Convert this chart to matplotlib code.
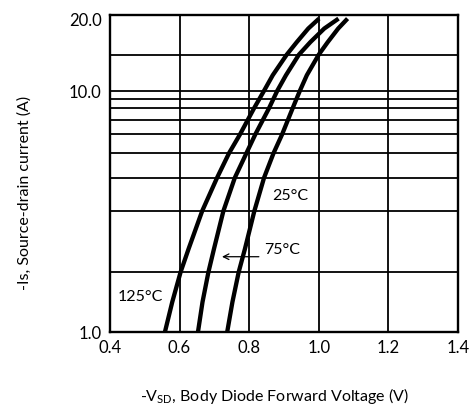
import matplotlib
matplotlib.use("Agg")
import matplotlib.pyplot as plt

# Body diode forward characteristics
current = [1.0, 1.33, 1.77, 2.21, 3.17, 4.36, 5.5, 6.6, 8.45,
           10.0, 11.6, 14.1, 15.9, 18.1, 19.9]
vsd_125 = [0.558, 0.579, 0.603, 0.626, 0.665, 0.708, 0.742, 0.774, 0.814,
           0.843, 0.868, 0.908, 0.937, 0.970, 1.001]
vsd_75 = [0.653, 0.666, 0.683, 0.699, 0.726, 0.759, 0.792, 0.818, 0.857,
          0.881, 0.906, 0.943, 0.976, 1.016, 1.057]
vsd_25 = [0.737, 0.752, 0.770, 0.788, 0.815, 0.843, 0.870, 0.895, 0.925,
          0.946, 0.966, 1.000, 1.026, 1.056, 1.083]

x_ticks = [0.4, 0.6, 0.8, 1.0, 1.2, 1.4]
y_ticks = [1.0, 10.0, 20.0]
y_tick_labels = ["1.0", "10.0", "20.0"]
# horizontal grid rows as drawn on the original sheet
y_grid = [1.77, 3.16, 4.33, 5.5, 6.6, 7.58, 8.45, 9.27, 10.0, 14.0]

plt.rcParams['font.family'] = ['Lato', 'DejaVu Sans']
plt.rcParams['mathtext.default'] = 'regular'

fig = plt.figure(figsize=(4.72, 4.10), dpi=100)
ax = fig.add_axes([0.233, 0.188, 0.737, 0.773])

ax.set_yscale('log')
ax.set_xlim(0.4, 1.4)
ax.set_ylim(1.0, 20.6)

for x in x_ticks[1:-1]:
    ax.axvline(x, color='black', lw=1.3, zorder=1)
for y in y_grid:
    ax.axhline(y, color='black', lw=1.3, zorder=1)

for vx in [vsd_125, vsd_75, vsd_25]:
    ax.plot(vx, current, color='black', lw=3.1, zorder=3,
            solid_joinstyle='round', solid_capstyle='butt')

ax.text(0.917, 3.68, "25°C", fontsize=11.5, ha='center', va='center')
ax.text(0.895, 2.21, "75°C", fontsize=11.5, ha='center', va='center')
ax.text(0.486, 1.415, "125°C", fontsize=11.5, ha='center', va='center')
ax.annotate("", xy=(0.714, 2.05), xytext=(0.836, 2.05),
            arrowprops=dict(arrowstyle='->', color='black', lw=0.9))

ax.set_xticks(x_ticks)
ax.set_xticklabels([f"{x:.1f}" for x in x_ticks], fontsize=12)
ax.minorticks_off()
ax.set_yticks(y_ticks)
ax.set_yticklabels(y_tick_labels, fontsize=12)
ax.tick_params(axis='x', length=0, pad=5)
ax.tick_params(axis='y', length=0, pad=6)
for s in ax.spines.values():
    s.set_linewidth(1.7)

fig.text(0.051, 0.529, "-Is, Source-drain current (A)", rotation=90,
         ha='center', va='center', fontsize=11.5)
fig.text(0.582, 0.034, "-V$_{SD}$, Body Diode Forward Voltage (V)",
         ha='center', va='center', fontsize=11.5)

fig.savefig("out.png", dpi=100)
